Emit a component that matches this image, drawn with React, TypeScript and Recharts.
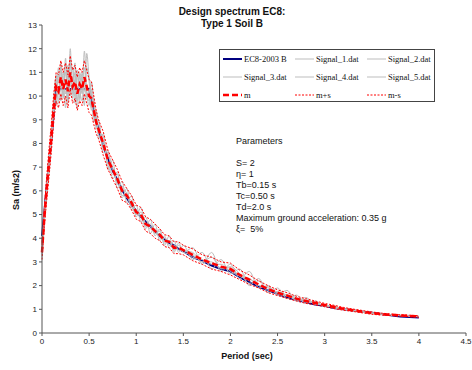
import React from 'react';
import { LineChart, Line, XAxis, YAxis, Legend } from 'recharts';

// Period grid (sec)
const periods = [
  0, 0.025, 0.05, 0.075, 0.1, 0.125, 0.15, 0.175, 0.2, 0.225, 0.25, 0.275, 0.3,
  0.325, 0.35, 0.375, 0.4, 0.425, 0.45, 0.475, 0.5, 0.525, 0.55, 0.575, 0.6,
  0.65, 0.7, 0.75, 0.8, 0.85, 0.9, 0.95, 1.0, 1.05, 1.1, 1.15, 1.2, 1.25, 1.3, 1.35, 1.4, 1.45, 1.5,
  1.6, 1.7, 1.8, 1.9, 2.0, 2.1, 2.2, 2.3, 2.4, 2.5, 2.6, 2.7, 2.8,
  2.9, 3.0, 3.1, 3.2, 3.3, 3.4, 3.5, 3.6, 3.7, 3.8, 3.9, 4.0,
];

// Sa (m/s2) values
const ec8 = [
  4.1, 5.1, 6.2, 7.2, 8.2, 9.3, 10.3, 10.3, 10.3, 10.3, 10.3, 10.3, 10.3,
  10.3, 10.3, 10.3, 10.3, 10.3, 10.3, 10.3, 10.3, 9.8, 9.35, 8.95, 8.6,
  7.9, 7.35, 6.85, 6.45, 6.05, 5.7, 5.4, 5.15, 4.9, 4.7, 4.5, 4.3, 4.1, 3.95, 3.8, 3.7, 3.55, 3.45,
  3.2, 3.05, 2.85, 2.7, 2.6, 2.35, 2.15, 1.95, 1.8, 1.65, 1.5, 1.4, 1.3,
  1.2, 1.15, 1.05, 1.0, 0.95, 0.9, 0.85, 0.8, 0.75, 0.7, 0.68, 0.65,
];

const signal1 = [
  3.3, 4.7, 6.2, 7.5, 8.1, 9.9, 10.8, 9.7, 11.4, 10.0, 11.6, 9.8, 12.0,
  10.1, 11.0, 9.5, 10.9, 10.1, 11.9, 10.2, 9.6, 10.3, 9.1, 9.3, 8.2,
  8.4, 6.9, 7.3, 6.1, 6.4, 5.5, 5.8, 4.9, 5.3, 4.4, 4.8, 4.1, 4.4, 3.7, 4.1, 3.4, 3.8, 3.4,
  3.6, 2.9, 3.4, 2.6, 2.9, 2.3, 2.6, 1.9, 2.0, 1.6, 1.8, 1.35, 1.5,
  1.2, 1.2, 1.05, 1.0, 0.92, 0.88, 0.82, 0.79, 0.76, 0.73, 0.71, 0.68,
];

const signal2 = [
  3.5, 5.0, 5.9, 7.0, 8.6, 9.2, 10.1, 10.7, 10.2, 11.0, 10.1, 10.9, 10.4,
  11.2, 10.0, 10.9, 9.8, 11.0, 10.2, 11.2, 10.6, 9.5, 9.9, 8.6, 9.0,
  7.6, 7.7, 6.5, 6.8, 5.7, 6.1, 5.2, 5.4, 4.7, 4.9, 4.2, 4.6, 3.9, 4.1, 3.6, 3.9, 3.4, 3.7,
  3.1, 3.4, 2.7, 3.1, 2.5, 2.7, 2.0, 2.3, 1.7, 1.9, 1.45, 1.6, 1.25,
  1.35, 1.1, 1.15, 0.98, 1.0, 0.88, 0.86, 0.79, 0.78, 0.74, 0.73, 0.71,
];

const signal3 = [
  3.2, 4.6, 6.4, 6.8, 8.0, 9.6, 9.6, 10.9, 9.8, 10.6, 9.5, 11.3, 10.0,
  10.8, 9.7, 11.1, 9.9, 10.5, 9.6, 11.8, 10.8, 10.1, 8.9, 9.4, 8.5,
  8.3, 7.1, 6.7, 6.7, 5.8, 5.9, 5.3, 5.2, 4.9, 4.5, 4.6, 4.2, 4.2, 3.8, 3.9, 3.5, 3.6, 3.4,
  3.3, 3.0, 3.2, 2.7, 2.8, 2.5, 2.1, 2.2, 1.8, 1.75, 1.6, 1.4, 1.4,
  1.25, 1.18, 1.08, 1.03, 0.95, 0.9, 0.85, 0.81, 0.77, 0.75, 0.72, 0.7,
];

const signal4 = [
  3.4, 5.2, 6.0, 7.3, 8.4, 9.4, 10.9, 10.1, 11.2, 9.9, 11.0, 10.3, 11.4,
  9.9, 10.7, 10.4, 10.2, 9.8, 10.6, 10.1, 9.8, 10.6, 9.7, 8.8, 8.9,
  7.8, 7.6, 7.0, 6.3, 6.1, 5.9, 5.4, 5.0, 5.1, 4.6, 4.4, 4.4, 4.0, 4.0, 3.7, 3.7, 3.5, 3.5,
  3.2, 3.1, 2.9, 2.9, 2.6, 2.4, 2.3, 2.0, 1.9, 1.65, 1.55, 1.45, 1.3,
  1.28, 1.15, 1.1, 1.0, 0.96, 0.9, 0.83, 0.8, 0.76, 0.74, 0.71, 0.69,
];

const signal5 = [
  3.6, 4.9, 5.8, 7.1, 8.5, 9.7, 10.0, 11.2, 10.4, 10.5, 11.3, 9.7, 11.6,
  10.6, 11.4, 9.8, 11.0, 10.6, 11.2, 9.9, 10.3, 9.4, 9.7, 9.1, 8.4,
  8.0, 7.2, 6.9, 6.4, 6.2, 5.7, 5.6, 5.0, 5.0, 4.6, 4.5, 4.2, 4.3, 3.9, 3.9, 3.5, 3.7, 3.5,
  3.4, 3.0, 3.0, 2.75, 2.75, 2.4, 2.3, 2.0, 1.95, 1.7, 1.6, 1.5, 1.35,
  1.3, 1.15, 1.12, 1.0, 0.98, 0.9, 0.84, 0.8, 0.77, 0.74, 0.72, 0.7,
];

const mean = [
  3.4, 4.9, 6.1, 7.2, 8.3, 9.5, 10.4, 10.2, 10.8, 10.3, 10.7, 10.2, 11.0,
  10.4, 10.6, 10.1, 10.5, 10.3, 10.8, 10.4, 10.0, 9.9, 9.4, 8.9, 8.6,
  8.0, 7.3, 6.9, 6.5, 6.0, 5.8, 5.5, 5.1, 5.0, 4.6, 4.5, 4.3, 4.15, 3.9, 3.85, 3.6, 3.6, 3.5,
  3.3, 3.1, 2.95, 2.8, 2.7, 2.45, 2.25, 2.05, 1.85, 1.7, 1.58, 1.45, 1.35,
  1.27, 1.18, 1.1, 1.02, 0.96, 0.9, 0.84, 0.8, 0.77, 0.74, 0.72, 0.7,
];

const meanPlus = [
  3.7, 5.3, 6.6, 7.8, 8.9, 10.1, 11.0, 10.9, 11.5, 11.0, 11.4, 10.9, 11.7,
  11.1, 11.3, 10.8, 11.2, 11.0, 11.5, 11.1, 10.7, 10.6, 10.0, 9.4, 9.0,
  8.5, 7.7, 7.3, 6.9, 6.4, 6.1, 5.8, 5.4, 5.3, 4.9, 4.8, 4.6, 4.4, 4.15, 4.1, 3.85, 3.85, 3.7,
  3.55, 3.3, 3.2, 3.0, 2.95, 2.65, 2.45, 2.2, 2.0, 1.82, 1.7, 1.55, 1.45,
  1.35, 1.25, 1.17, 1.08, 1.01, 0.95, 0.89, 0.84, 0.8, 0.77, 0.75, 0.73,
];

const meanMinus = [
  3.1, 4.5, 5.6, 6.6, 7.7, 8.9, 9.8, 9.5, 10.1, 9.6, 10.0, 9.5, 10.3,
  9.7, 9.9, 9.4, 9.8, 9.6, 10.1, 9.7, 9.3, 9.2, 8.8, 8.4, 8.2,
  7.5, 6.9, 6.5, 6.1, 5.6, 5.5, 5.2, 4.8, 4.7, 4.3, 4.2, 4.0, 3.9, 3.65, 3.6, 3.35, 3.35, 3.3,
  3.05, 2.9, 2.7, 2.6, 2.45, 2.25, 2.05, 1.9, 1.7, 1.58, 1.46, 1.35, 1.25,
  1.19, 1.11, 1.03, 0.96, 0.91, 0.85, 0.79, 0.76, 0.74, 0.71, 0.69, 0.67,
];

const xTicks = [0, 0.5, 1, 1.5, 2, 2.5, 3, 3.5, 4, 4.5];
const yTicks = [0, 1, 2, 3, 4, 5, 6, 7, 8, 9, 10, 11, 12, 13];

const paramLines = [
  'Parameters',
  '',
  'S= 2',
  'η= 1',
  'Tb=0.15 s',
  'Tc=0.50 s',
  'Td=2.0 s',
  'Maximum ground acceleration: 0.35 g',
  'ξ=  5%',
];

const data = periods.map((t, i) => ({
  t,
  ec8: ec8[i],
  s1: signal1[i],
  s2: signal2[i],
  s3: signal3[i],
  s4: signal4[i],
  s5: signal5[i],
  m: mean[i],
  mp: meanPlus[i],
  mm: meanMinus[i],
}));

const series = [
  { key: 'ec8', name: 'EC8-2003 B', color: '#000080', width: 2, dash: undefined },
  { key: 's1', name: 'Signal_1.dat', color: '#bdbdbd', width: 1, dash: undefined },
  { key: 's2', name: 'Signal_2.dat', color: '#bdbdbd', width: 1, dash: undefined },
  { key: 's3', name: 'Signal_3.dat', color: '#bdbdbd', width: 1, dash: undefined },
  { key: 's4', name: 'Signal_4.dat', color: '#bdbdbd', width: 1, dash: undefined },
  { key: 's5', name: 'Signal_5.dat', color: '#bdbdbd', width: 1, dash: undefined },
  { key: 'm', name: 'm', color: '#ff0000', width: 2.5, dash: '6 3' },
  { key: 'mp', name: 'm+s', color: '#ff0000', width: 1, dash: '2 1.5' },
  { key: 'mm', name: 'm-s', color: '#ff0000', width: 1, dash: '2 1.5' },
];

// drawing order: design spectrum underneath, greys over it, statistics on top
const drawOrder = ['ec8', 's1', 's2', 's3', 's4', 's5', 'mp', 'mm', 'm'];

const tickStyle = { fontSize: 8, fill: '#222', fontFamily: '"Liberation Sans", Arial, sans-serif' };

const LegendBox = () => (
  <div
    style={{
      position: 'absolute',
      left: 219,
      top: 49,
      width: 216,
      height: 53,
      border: '1px solid #444',
      background: '#fff',
      boxSizing: 'border-box',
      display: 'grid',
      gridTemplateColumns: '72px 72px 70px',
      gridAutoRows: '18px',
      paddingLeft: 3,
      paddingTop: 0,
      fontFamily: '"Liberation Serif", "Times New Roman", serif',
      fontSize: 8.5,
      color: '#111',
    }}
  >
    {series.map((s) => (
      <div key={s.key} style={{ display: 'flex', alignItems: 'center' }}>
        <svg width={19} height={6} style={{ marginRight: 2 }}>
          <line
            x1={0}
            y1={3}
            x2={19}
            y2={3}
            stroke={s.color}
            strokeWidth={s.width}
            strokeDasharray={s.dash}
          />
        </svg>
        <span>{s.name}</span>
      </div>
    ))}
  </div>
);

export default function App() {
  return (
    <div style={{ position: 'absolute', left: 0, top: 0, width: 472, height: 370, background: '#fff' }}>
      <LineChart
        width={472}
        height={370}
        data={data}
        margin={{ top: 25, right: 6, bottom: 17, left: 12 }}
      >
        <XAxis
          dataKey="t"
          type="number"
          domain={[0, 4.5]}
          ticks={xTicks}
          tick={tickStyle}
          tickSize={3}
          stroke="#555"
          height={20}
          interval={0}
        />
        <YAxis
          type="number"
          domain={[0, 13]}
          ticks={yTicks}
          tick={tickStyle}
          tickSize={3}
          stroke="#555"
          width={30}
          interval={0}
        />
        <Legend content={() => null} />
        {drawOrder.map((k) => {
          const s = series.find((x) => x.key === k)!;
          return (
            <Line
              key={k}
              dataKey={k}
              name={s.name}
              type={k.startsWith('s') ? 'monotone' : 'linear'}
              stroke={s.color}
              strokeWidth={s.width}
              strokeDasharray={s.dash}
              dot={false}
              isAnimationActive={false}
            />
          );
        })}
      </LineChart>

      <div
        style={{
          position: 'absolute',
          left: 150,
          width: 164,
          top: 6,
          textAlign: 'center',
          fontFamily: '"Liberation Sans", Arial, sans-serif',
          fontWeight: 'bold',
          fontSize: 10,
          lineHeight: '12px',
          color: '#111',
        }}
      >
        Design spectrum EC8:
        <br />
        Type 1 Soil B
      </div>

      <LegendBox />

      <div
        style={{
          position: 'absolute',
          left: 236,
          top: 136,
          fontFamily: '"Liberation Sans", Arial, sans-serif',
          fontSize: 9,
          lineHeight: '11px',
          color: '#111',
          whiteSpace: 'pre',
        }}
      >
        {paramLines.map((l, i) => (
          <div key={i} style={{ height: 11 }}>{l}</div>
        ))}
      </div>

      <div
        style={{
          position: 'absolute',
          left: 200,
          width: 94,
          top: 351,
          textAlign: 'center',
          fontFamily: '"Liberation Sans", Arial, sans-serif',
          fontWeight: 'bold',
          fontSize: 9,
          color: '#111',
        }}
      >
        Period (sec)
      </div>

      <div
        style={{
          position: 'absolute',
          left: 16,
          top: 190,
          transform: 'translate(-50%, -50%) rotate(-90deg)',
          fontFamily: '"Liberation Sans", Arial, sans-serif',
          fontWeight: 'bold',
          fontSize: 9,
          color: '#111',
          whiteSpace: 'nowrap',
        }}
      >
        Sa (m/s2)
      </div>
    </div>
  );
}
